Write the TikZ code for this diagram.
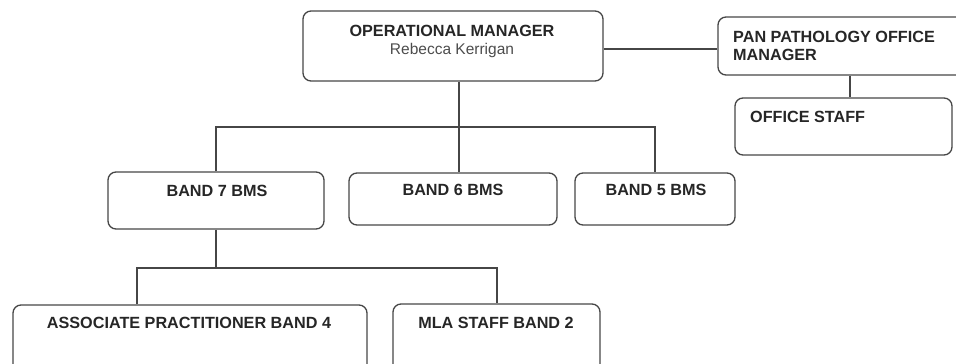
\documentclass[tikz,border=0pt]{standalone}
\usepackage{fontspec}
\setmainfont{Liberation Sans}
\usetikzlibrary{fit}

\begin{document}
\begin{tikzpicture}[x=1pt,y=-1pt,
  box/.style={draw=gray!55!black, line width=1.3pt, rounded corners=8pt, inner sep=0pt},
  link/.style={draw=gray!55!black, line width=1.3pt},
  head/.style={font=\fontsize{16.2}{18}\selectfont\bfseries, text=black!85, inner sep=0pt},
  person/.style={font=\fontsize{15.5}{18}\selectfont, text=black!70, inner sep=0pt}]
\clip (0,0) rectangle (956,364);

% boxes
\node[box, fit={(303,11) (603,81)}] (ops) {};
\node[box, fit={(718,17) (975,75)}] (pan) {};
\node[box, fit={(735,98) (952,155)}] (office) {};
\node[box, fit={(108,172) (324,229)}] (band7) {};
\node[box, fit={(349,173) (557,225)}] (band6) {};
\node[box, fit={(575,173) (735,225)}] (band5) {};
\node[box, fit={(13,305) (367,385)}] (assoc) {};
\node[box, fit={(393,304) (600,385)}] (mla) {};

% texts
\node[head, anchor=base] (ops-t) at (452,36) {OPERATIONAL MANAGER};
\node[person, anchor=base] (ops-n) at (452,54) {Rebecca Kerrigan};
\node[head, anchor=base west] (pan-t) at (733,42) {PAN PATHOLOGY OFFICE};
\node[head, anchor=base west] (pan-t2) at (733,60) {MANAGER};
\node[head, anchor=base west] (office-t) at (750,122) {OFFICE STAFF};
\node[head, anchor=base] (band7-t) at (217,196) {BAND 7 BMS};
\node[head, anchor=base] (band6-t) at (453,195) {BAND 6 BMS};
\node[head, anchor=base] (band5-t) at (656,195) {BAND 5 BMS};
\node[head, anchor=base] (assoc-t) at (189,328) {ASSOCIATE PRACTITIONER BAND 4};
\node[head, anchor=base] (mla-t) at (496,328) {MLA STAFF BAND 2};

% connectors
\coordinate (bus) at (459,127);
\draw[link] (ops.south -| bus) -- (bus);
\draw[link] (band7.north) |- (bus) -| (band5.north);
\draw[link] (bus) -- (band6.north -| bus);
\draw[link] (ops.east |- 0,49) -- (pan.west |- 0,49);
\coordinate (offx) at (850,0);
\draw[link] (pan.south -| offx) -- (office.north -| offx);

\draw[link] (band7.south) -- ++(0,39) coordinate (split);
\coordinate (apx) at (137,268);
\coordinate (mlax) at (497,268);
\draw[link] (assoc.north -| apx) -- (apx) -- (mlax) -- (mla.north -| mlax);
\end{tikzpicture}
\end{document}
